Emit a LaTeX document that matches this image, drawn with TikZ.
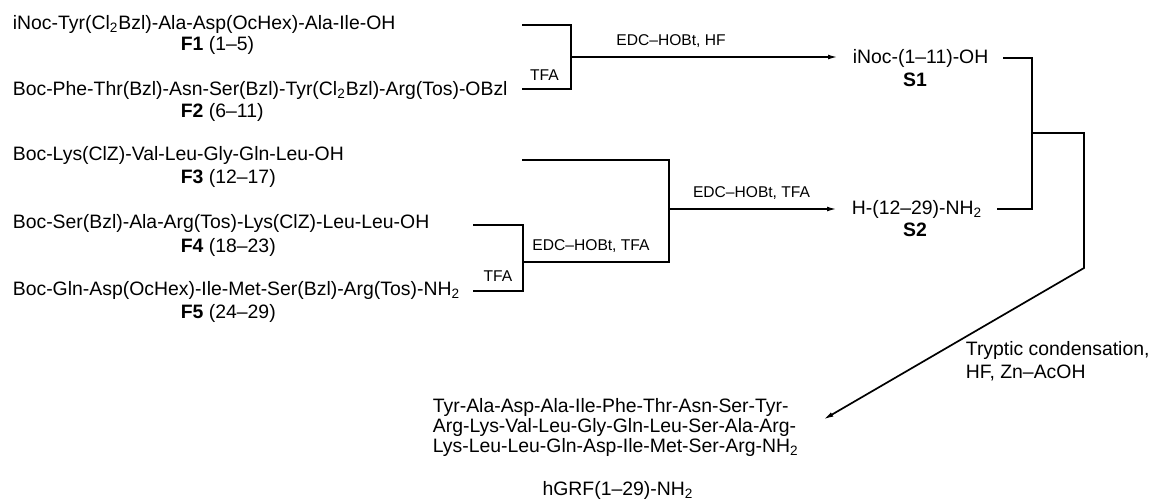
\documentclass[tikz,border=0pt]{standalone}
\usepackage{fontspec}
\setmainfont{Liberation Sans}
\usetikzlibrary{arrows.meta}

\begin{document}
\begin{tikzpicture}[x=0.5pt,y=-0.5pt,
  seq/.style={anchor=west,inner sep=0pt,font=\fontsize{9.7}{11}\selectfont},
  cond/.style={inner sep=0pt,font=\fontsize{7.8}{9}\selectfont},
  arr/.style={-{Latex[length=5pt,width=2.4pt]}},
  line width=0.85pt]
  \useasboundingbox (0,0) rectangle (1149,500);
  \node[seq] (f1) at (12,24) {iNoc-Tyr(Cl\textsubscript{2}Bzl)-Ala-Asp(OcHex)-Ala-Ile-OH};
  \node[seq] (f1lab) at (180,45) {\textbf{F1} (1--5)};
  \node[seq] (f2) at (12,90) {Boc-Phe-Thr(Bzl)-Asn-Ser(Bzl)-Tyr(Cl\textsubscript{2}Bzl)-Arg(Tos)-OBzl};
  \node[seq] (f2lab) at (180,112) {\textbf{F2} (6--11)};
  \node[seq] (f3) at (12,155) {Boc-Lys(ClZ)-Val-Leu-Gly-Gln-Leu-OH};
  \node[seq] (f3lab) at (180,178) {\textbf{F3} (12--17)};
  \node[seq] (f4) at (12,223) {Boc-Ser(Bzl)-Ala-Arg(Tos)-Lys(ClZ)-Leu-Leu-OH};
  \node[seq] (f4lab) at (180,247) {\textbf{F4} (18--23)};
  \node[seq] (f5) at (12,290) {Boc-Gln-Asp(OcHex)-Ile-Met-Ser(Bzl)-Arg(Tos)-NH\textsubscript{2}};
  \node[seq] (f5lab) at (180,313) {\textbf{F5} (24--29)};
  \node[seq,inner xsep=7pt] (s1) at (838,58) {iNoc-(1--11)-OH};
  \node[seq,anchor=center] (s1lab) at (915,80) {\textbf{S1}};
  \node[seq,inner xsep=7pt] (s2) at (837,209) {H-(12--29)-NH\textsubscript{2}};
  \node[seq,anchor=center] (s2lab) at (915,230) {\textbf{S2}};
  \node[seq,align=left,inner xsep=12pt] (prod) at (408,427.5)
    {Tyr-Ala-Asp-Ala-Ile-Phe-Thr-Asn-Ser-Tyr-\\[-1.2pt]
     Arg-Lys-Val-Leu-Gly-Gln-Leu-Ser-Ala-Arg-\\[-1.2pt]
     Lys-Leu-Leu-Gln-Asp-Ile-Met-Ser-Arg-NH\textsubscript{2}};
  \node[seq,anchor=center] (hgrf) at (618,490) {hGRF(1--29)-NH\textsubscript{2}};

  \node[cond] (c1) at (671,41) {EDC--HOBt, HF};
  \node[cond] (t1) at (544.5,75) {TFA};
  \node[cond] (c2) at (751.5,193) {EDC--HOBt, TFA};
  \node[cond] (c3) at (591,246) {EDC--HOBt, TFA};
  \node[cond] (t2) at (498,276) {TFA};
  \node[seq,align=left,font=\fontsize{9.7}{11.5}\selectfont] (c4) at (965,361.5)
    {Tryptic condensation,\\HF, Zn--AcOH};

  \coordinate (b1) at (522,25);
  \coordinate (b2) at (522,89);
  \coordinate (j1) at (571,57);
  \coordinate (b3) at (522,160);
  \coordinate (b4) at (473,225);
  \coordinate (b5) at (473,291);
  \coordinate (j2) at (523,262);
  \coordinate (j3) at (669,209);
  \coordinate (j4) at (1032,133);
  \coordinate (j5) at (1084,268);

  \draw (b1) -| (j1) |- (b2);
  \draw[arr] (j1) -- (j1 -| s1.west);
  \draw (b4) -| (j2) |- (b5);
  \draw (b3) -| (j3) |- (j2);
  \draw[arr] (j3) -- (j3 -| s2.west);
  \draw (s1.east) -| (j4) |- (s2.east);
  \draw[arr] (j4) -| (j5) -- ([yshift=4pt]prod.east);
\end{tikzpicture}
\end{document}
